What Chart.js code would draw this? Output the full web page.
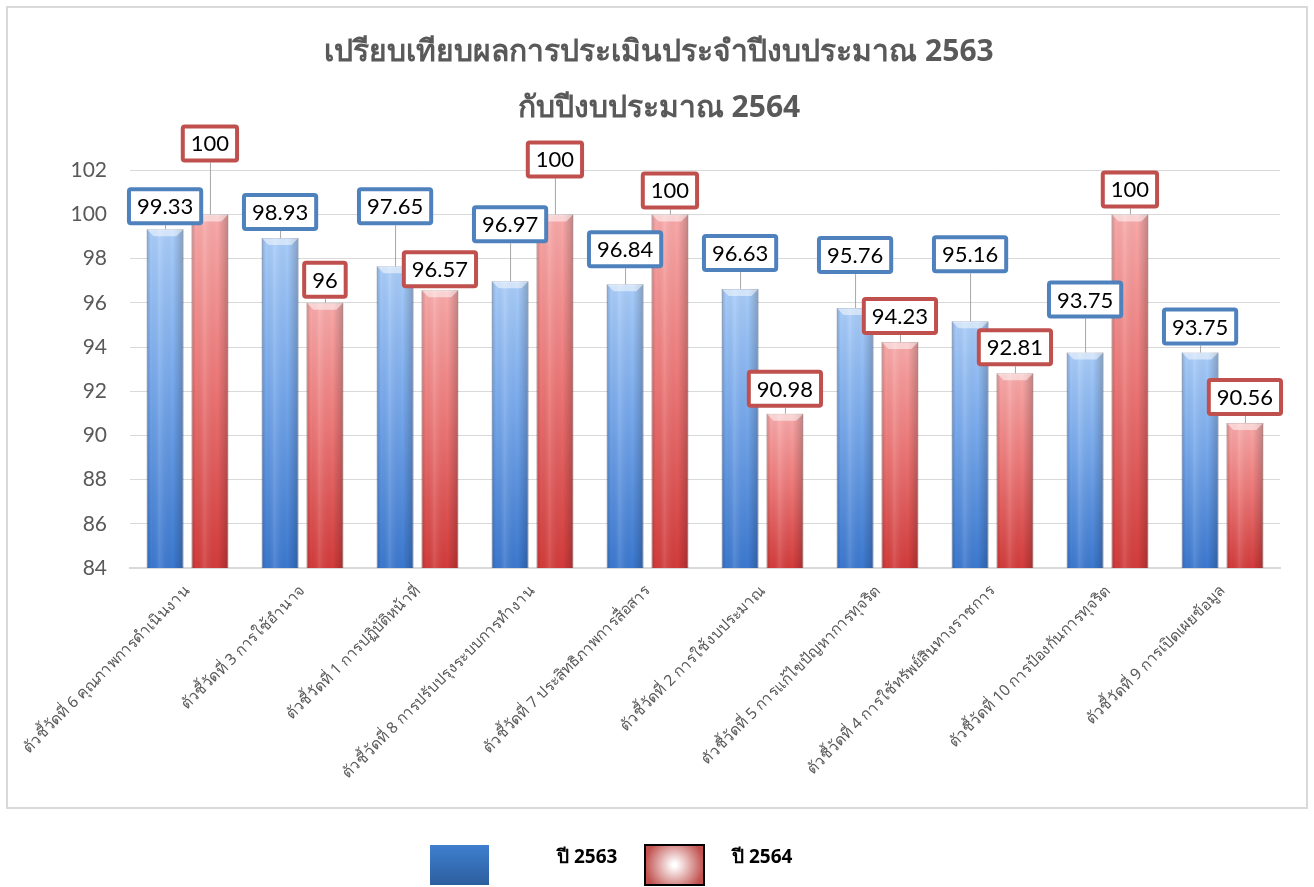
<!DOCTYPE html>
<html>
<head>
<meta charset="utf-8">
<script src="https://cdn.jsdelivr.net/npm/chart.js@4.4.1/dist/chart.umd.min.js"></script>
<style>
  html, body { margin: 0; padding: 0; background: #fff; }
  #wrap { width: 1314px; height: 887px; }
</style>
</head>
<body>
<div id="wrap"><canvas id="scoreChart" width="1314" height="887"></canvas></div>
<script>
const categories = [
  "ตัวชี้วัดที่ 6 คุณภาพการดำเนินงาน",
  "ตัวชี้วัดที่ 3 การใช้อำนาจ",
  "ตัวชี้วัดที่ 1 การปฏิบัติหน้าที่",
  "ตัวชี้วัดที่ 8 การปรับปรุงระบบการทำงาน",
  "ตัวชี้วัดที่ 7 ประสิทธิภาพการสื่อสาร",
  "ตัวชี้วัดที่ 2 การใช้งบประมาณ",
  "ตัวชี้วัดที่ 5 การแก้ไขปัญหาการทุจริต",
  "ตัวชี้วัดที่ 4 การใช้ทรัพย์สินทางราชการ",
  "ตัวชี้วัดที่ 10 การป้องกันการทุจริต",
  "ตัวชี้วัดที่ 9 การเปิดเผยข้อมูล",
];
const score2563 = [99.33, 98.93, 97.65, 96.97, 96.84, 96.63, 95.76, 95.16, 93.75, 93.75];
const score2564 = [100, 96, 96.57, 100, 100, 90.98, 94.23, 92.81, 100, 90.56];
const seriesNames = ["ปี 2563", "ปี 2564"];
const titleLines = ["เปรียบเทียบผลการประเมินประจำปีงบประมาณ 2563", "กับปีงบประมาณ 2564"];
const yMin = 84, yMax = 102, yStep = 2;

// how far (px) each callout sits above its bar
const liftBlue = [23, 26, 60, 57, 35, 36, 53, 67, 53, 26];
const liftRed = [71, 23, 21, 55, 24, 25, 26, 26, 25, 26];
const labelLift = [liftBlue, liftRed];

const labelBorder = ["#4f81bd", "#c0504d"];
const thaiFont = "'Noto Sans', 'DejaVu Sans', sans-serif";

function barGradient(stops) {
  return (context) => {
    const chart = context.chart;
    if (!chart.chartArea || context.type !== "data") return stops[1];
    const y = chart.scales.y.getPixelForValue(context.raw);
    const g = chart.ctx.createLinearGradient(0, y, 0, chart.chartArea.bottom);
    g.addColorStop(0, stops[0]);
    g.addColorStop(0.45, stops[1]);
    g.addColorStop(1, stops[2]);
    return g;
  };
}

const frame = {
  id: "frame",
  beforeDraw(chart) {
    const ctx = chart.ctx;
    ctx.save();
    ctx.fillStyle = "#fff";
    ctx.fillRect(0, 0, chart.width, chart.height);
    ctx.strokeStyle = "#d9d9d9";
    ctx.lineWidth = 2;
    ctx.strokeRect(7, 7, chart.width - 14, 801);
    ctx.restore();
  },
};

const bevel = {
  id: "bevel",
  afterDatasetsDraw(chart) {
    const ctx = chart.ctx;
    const area = chart.chartArea;
    ctx.save();
    ctx.beginPath();
    ctx.rect(area.left, area.top, area.right - area.left, area.bottom - area.top);
    ctx.clip();
    chart.data.datasets.forEach((ds, di) => {
      chart.getDatasetMeta(di).data.forEach((bar) => {
        const x0 = bar.x - bar.width / 2, x1 = bar.x + bar.width / 2;
        const top = bar.y, bottom = Math.min(bar.base, area.bottom);
        // side shading
        const sg = ctx.createLinearGradient(x0, 0, x1, 0);
        sg.addColorStop(0, "rgba(0,0,0,0.18)");
        sg.addColorStop(0.12, "rgba(0,0,0,0)");
        sg.addColorStop(0.35, "rgba(255,255,255,0.12)");
        sg.addColorStop(0.7, "rgba(0,0,0,0)");
        sg.addColorStop(1, "rgba(0,0,0,0.22)");
        ctx.fillStyle = sg;
        ctx.fillRect(x0, top, x1 - x0, bottom - top);
        // top bevel
        ctx.beginPath();
        ctx.moveTo(x0, top);
        ctx.lineTo(x1, top);
        ctx.lineTo(x1 - 7, top + 7);
        ctx.lineTo(x0 + 7, top + 7);
        ctx.closePath();
        ctx.fillStyle = "rgba(255,255,255,0.5)";
        ctx.fill();
      });
    });
    ctx.restore();
  },
};

const valueLabels = {
  id: "valueLabels",
  afterDatasetsDraw(chart) {
    const ctx = chart.ctx;
    ctx.save();
    ctx.font = "22px Lato, 'Open Sans', sans-serif";
    ctx.textAlign = "center";
    ctx.textBaseline = "middle";
    chart.data.datasets.forEach((ds, di) => {
      chart.getDatasetMeta(di).data.forEach((bar, i) => {
        const txt = String(ds.data[i]);
        const cx = bar.x;
        const cy = bar.y - labelLift[di][i];
        const w = ctx.measureText(txt).width + 16;
        const h = 34;
        const boxBottom = cy + h / 2 + 2;
        if (bar.y - boxBottom > 3) {
          ctx.strokeStyle = "#a6a6a6";
          ctx.lineWidth = 1;
          ctx.beginPath();
          ctx.moveTo(cx + 0.5, boxBottom);
          ctx.lineTo(cx + 0.5, bar.y);
          ctx.stroke();
        }
        ctx.beginPath();
        ctx.roundRect(cx - w / 2, cy - h / 2, w, h, 2);
        ctx.fillStyle = "#fff";
        ctx.fill();
        ctx.strokeStyle = labelBorder[di];
        ctx.lineWidth = 4;
        ctx.stroke();
        ctx.fillStyle = "#000";
        ctx.fillText(txt, cx, cy + 1);
      });
    });
    ctx.restore();
  },
};

const legendBoxes = {
  id: "legendBoxes",
  afterDraw(chart) {
    const ctx = chart.ctx;
    const top = 845, bw = 59, bh = 40;
    const starts = [430, 645];
    const textGap = [127, 87];
    ctx.save();
    chart.data.datasets.forEach((ds, di) => {
      const x = starts[di];
      if (di === 0) {
        const g = ctx.createLinearGradient(0, top, 0, top + bh);
        g.addColorStop(0, "#3f7fcf");
        g.addColorStop(1, "#2c5f9f");
        ctx.fillStyle = g;
        ctx.fillRect(x, top, bw, bh);
      } else {
        const g = ctx.createRadialGradient(x + bw / 2, top + bh / 2, 2, x + bw / 2, top + bh / 2, bw / 2);
        g.addColorStop(0, "#ffffff");
        g.addColorStop(1, "#c0504d");
        ctx.fillStyle = g;
        ctx.fillRect(x, top, bw, bh);
        ctx.strokeStyle = "#000";
        ctx.lineWidth = 2;
        ctx.strokeRect(x, top, bw, bh);
      }
      ctx.fillStyle = "#000";
      ctx.font = "bold 19px " + thaiFont;
      ctx.textAlign = "left";
      ctx.textBaseline = "middle";
      ctx.fillText(ds.label, x + textGap[di], top + 13);
    });
    ctx.restore();
  },
};

new Chart(document.getElementById("scoreChart"), {
  type: "bar",
  data: {
    labels: categories,
    datasets: [
      {
        label: seriesNames[0],
        data: score2563,
        backgroundColor: barGradient(["#a9cdf9", "#78a9ec", "#3b78cf"]),
        borderColor: "rgba(50,95,165,0.6)",
        borderWidth: 1,
        categoryPercentage: 0.78,
        barPercentage: 0.82,
      },
      {
        label: seriesNames[1],
        data: score2564,
        backgroundColor: barGradient(["#f9aaaa", "#ee7a7a", "#d33b3b"]),
        borderColor: "rgba(160,50,50,0.6)",
        borderWidth: 1,
        categoryPercentage: 0.78,
        barPercentage: 0.82,
      },
    ],
  },
  options: {
    responsive: false,
    animation: false,
    layout: { padding: { left: 38, right: 34, top: 0, bottom: 80 } },
    plugins: {
      legend: { display: false },
      tooltip: { enabled: false },
      title: {
        display: true,
        text: titleLines,
        color: "#595959",
        font: { family: thaiFont, size: 30, weight: "bold", lineHeight: 1.87 },
        padding: { top: 24, bottom: 34 },
      },
    },
    scales: {
      x: {
        grid: { display: false, drawTicks: false },
        border: { display: true, color: "#d9d9d9", width: 2 },
        ticks: {
          color: "#595959",
          font: { family: thaiFont, size: 15.5 },
          minRotation: 45,
          maxRotation: 45,
          autoSkip: false,
          padding: 14,
        },
        afterFit(scale) { scale.height = 239; },
      },
      y: {
        min: yMin,
        max: yMax,
        grid: { color: "#d9d9d9", lineWidth: 1, drawTicks: false },
        border: { display: false },
        ticks: {
          stepSize: yStep,
          color: "#595959",
          font: { family: "Lato, 'Open Sans', sans-serif", size: 21 },
          padding: 23,
        },
        afterFit(scale) { scale.width = 92; },
      },
    },
  },
  plugins: [frame, bevel, valueLabels, legendBoxes],
});
</script>
</body>
</html>
